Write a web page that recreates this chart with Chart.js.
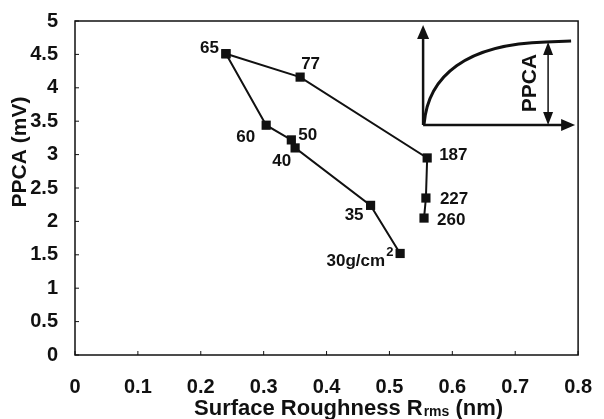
<!DOCTYPE html>
<html>
<head>
<meta charset="utf-8">
<script src="https://cdn.jsdelivr.net/npm/chart.js@4.4.1/dist/chart.umd.min.js"></script>
<style>
html,body{margin:0;padding:0;background:#fff;}
#wrap{width:604px;height:419px;}
</style>
</head>
<body>
<div id="wrap"><canvas id="c" width="604" height="419"></canvas></div>
<script>
// ---- data ----
const upperX = [0.240, 0.358, 0.560, 0.558, 0.555];
const upperY = [4.51, 4.16, 2.95, 2.35, 2.05];
const upperLabels = ['65', '77', '187', '227', '260'];

const lowerX = [0.240, 0.304, 0.344, 0.350, 0.470, 0.517];
const lowerY = [4.51, 3.44, 3.22, 3.10, 2.24, 1.52];
const lowerLabels = ['', '60', '50', '40', '35', '30g/cm²'];

const xTicks = [0, 0.1, 0.2, 0.3, 0.4, 0.5, 0.6, 0.7, 0.8];
const yTicks = [0, 0.5, 1, 1.5, 2, 2.5, 3, 3.5, 4, 4.5, 5];

const xTitle = ['Surface Roughness R', 'rms', ' (nm)'];
const yTitle = 'PPCA (mV)';
const insetLabel = 'PPCA';

// ---- label placement (style only) ----
const labelPlace = {
  '65':  {dx: -7, dy: -5, align: 'right'},
  '77':  {dx: 1,  dy: -13, align: 'left'},
  '187': {dx: 12, dy: -3, align: 'left'},
  '227': {dx: 14, dy: 1, align: 'left'},
  '260': {dx: 13, dy: 2, align: 'left'},
  '60':  {dx: -11, dy: 12, align: 'right'},
  '50':  {dx: 7,  dy: -5, align: 'left'},
  '40':  {dx: -4, dy: 13, align: 'right'},
  '35':  {dx: -7, dy: 10, align: 'right'},
  '30g/cm²': {dx: -15, dy: 8, align: 'right'}
};

const FONT = "'Liberation Sans', Arial, sans-serif";
const INK = '#111';

function toPts(xs, ys){ return xs.map((x,i)=>({x:x, y:ys[i]})); }

const frameAndExtras = {
  id: 'frameAndExtras',
  afterDraw(chart){
    const ctx = chart.ctx, a = chart.chartArea;
    const xs = chart.scales.x, ys = chart.scales.y;
    ctx.save();
    // frame
    ctx.strokeStyle = INK; ctx.lineWidth = 1.5;
    ctx.strokeRect(a.left, a.top, a.right - a.left, a.bottom - a.top);
    // inward tick marks
    ctx.lineWidth = 1;
    xTicks.forEach(v => { const p = xs.getPixelForValue(v); ctx.beginPath(); ctx.moveTo(p, a.bottom); ctx.lineTo(p, a.bottom - 4); ctx.stroke(); });
    yTicks.forEach(v => { const p = ys.getPixelForValue(v); ctx.beginPath(); ctx.moveTo(a.left, p); ctx.lineTo(a.left + 4, p); ctx.stroke(); });

    // point labels
    ctx.fillStyle = INK;
    const lf = 'bold 17px ' + FONT;
    ctx.font = lf;
    ctx.textBaseline = 'middle';
    const drawLabels = (dsIndex, labels) => {
      const meta = chart.getDatasetMeta(dsIndex);
      meta.data.forEach((el, i) => {
        const t = labels[i]; if (!t) return;
        const pl = labelPlace[t];
        let x = el.x + pl.dx, y = el.y + pl.dy;
        if (t.endsWith('²')) {
          const main = t.slice(0, -1);
          ctx.font = 'bold 13px ' + FONT; ctx.textAlign = 'left';
          ctx.fillText('2', x + 1, y - 9);
          ctx.font = lf; ctx.textAlign = 'right';
          ctx.fillText(main, x, y);
        } else {
          ctx.textAlign = pl.align;
          ctx.fillText(t, x, y);
        }
      });
    };
    drawLabels(0, upperLabels);
    drawLabels(1, lowerLabels);

    // inset schematic
    const L = a.right - 155, B = a.top + 104, T = a.top + 4, R = a.right - 3;
    ctx.strokeStyle = INK; ctx.fillStyle = INK;
    ctx.lineWidth = 2.5;
    ctx.beginPath(); ctx.moveTo(L, B); ctx.lineTo(L, T + 12); ctx.stroke();
    ctx.beginPath(); ctx.moveTo(L, B); ctx.lineTo(R - 12, B); ctx.stroke();
    ctx.beginPath(); ctx.moveTo(L, T); ctx.lineTo(L - 6, T + 14); ctx.lineTo(L + 6, T + 14); ctx.closePath(); ctx.fill();
    ctx.beginPath(); ctx.moveTo(R, B); ctx.lineTo(R - 14, B - 6); ctx.lineTo(R - 14, B + 6); ctx.closePath(); ctx.fill();
    // curve
    ctx.lineWidth = 3;
    ctx.beginPath();
    ctx.moveTo(L + 1, B - 1);
    ctx.bezierCurveTo(L + 5, B - 49, L + 43, B - 81, L + 123, B - 83);
    ctx.lineTo(R - 4, B - 84);
    ctx.stroke();
    // PPCA double arrow
    const ax = L + 125;
    ctx.lineWidth = 1.5;
    ctx.beginPath(); ctx.moveTo(ax, B - 72); ctx.lineTo(ax, B - 10); ctx.stroke();
    ctx.beginPath(); ctx.moveTo(ax, B - 83); ctx.lineTo(ax - 5, B - 70); ctx.lineTo(ax + 5, B - 70); ctx.closePath(); ctx.fill();
    ctx.beginPath(); ctx.moveTo(ax, B); ctx.lineTo(ax - 5, B - 13); ctx.lineTo(ax + 5, B - 13); ctx.closePath(); ctx.fill();
    // PPCA text
    ctx.save();
    ctx.translate(ax - 18, B - 42);
    ctx.rotate(-Math.PI / 2);
    ctx.font = 'bold 21px ' + FONT; ctx.textAlign = 'center'; ctx.textBaseline = 'middle';
    ctx.fillText(insetLabel, 0, 0);
    ctx.restore();

    // axis titles
    ctx.textBaseline = 'alphabetic';
    ctx.textAlign = 'left';
    const f1 = 'bold 22px ' + FONT, f2 = 'bold 14px ' + FONT;
    ctx.font = f1; const w1 = ctx.measureText(xTitle[0]).width, w3 = ctx.measureText(xTitle[2]).width;
    ctx.font = f2; const w2 = ctx.measureText(xTitle[1]).width;
    const cx = (a.left + a.right) / 2 + 22;
    let sx = cx - (w1 + w2 + w3 + 1) / 2; const by = 415;
    ctx.font = f1; ctx.fillText(xTitle[0], sx, by); sx += w1;
    ctx.font = f2; ctx.fillText(xTitle[1], sx + 1, by + 1); sx += w2 + 1;
    ctx.font = f1; ctx.fillText(xTitle[2], sx, by);

    ctx.save();
    ctx.translate(20, 152);
    ctx.rotate(-Math.PI / 2);
    ctx.textAlign = 'center'; ctx.textBaseline = 'middle';
    ctx.font = 'bold 21px ' + FONT;
    ctx.fillText(yTitle, 0, 0);
    ctx.restore();
    ctx.restore();
  }
};

const common = {
  showLine: true,
  borderColor: INK,
  backgroundColor: INK,
  borderWidth: 2,
  pointStyle: 'rect',
  pointRadius: 6.5,
  pointHoverRadius: 6.5,
  pointBackgroundColor: INK,
  pointBorderColor: INK,
  pointBorderWidth: 0,
  tension: 0,
  clip: false
};

new Chart(document.getElementById('c'), {
  type: 'scatter',
  data: {
    datasets: [
      Object.assign({label: 'upper', data: toPts(upperX, upperY)}, common),
      Object.assign({label: 'lower', data: toPts(lowerX, lowerY)}, common)
    ]
  },
  options: {
    responsive: false,
    animation: false,
    devicePixelRatio: 1,
    layout: {padding: {top: 16, right: 22, left: 0, bottom: 0}},
    plugins: {legend: {display: false}, tooltip: {enabled: false}},
    scales: {
      x: {
        type: 'linear', min: 0, max: 0.8,
        afterBuildTicks: s => { s.ticks = xTicks.map(v => ({value: v})); },
        ticks: {font: {family: FONT, size: 20, weight: 'bold'}, color: INK, padding: 12, maxRotation: 0,
          callback: v => String(v)},
        grid: {display: false},
        border: {display: false},
        afterFit: s => { s.height = 64; }
      },
      y: {
        type: 'linear', min: 0, max: 5,
        afterBuildTicks: s => { s.ticks = yTicks.map(v => ({value: v})); },
        ticks: {font: {family: FONT, size: 20, weight: 'bold'}, color: INK, padding: 9,
          callback: v => String(v)},
        grid: {display: false},
        border: {display: false},
        afterFit: s => { s.width = 75; }
      }
    }
  },
  plugins: [frameAndExtras]
});
</script>
</body>
</html>
